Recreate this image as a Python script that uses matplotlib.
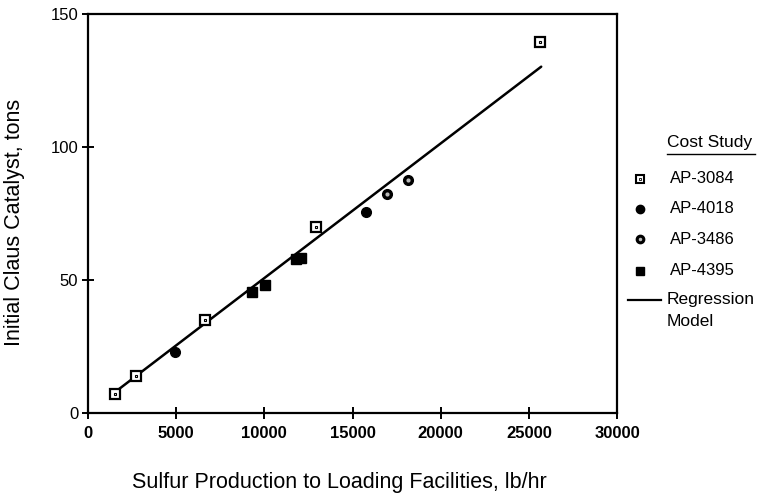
import matplotlib
matplotlib.use("Agg")
import matplotlib.pyplot as plt
from matplotlib.lines import Line2D

plt.rcParams["font.family"] = ["Liberation Sans", "DejaVu Sans"]

# values
ap3084_x = [1550, 2750, 6650, 12950, 25650]
ap3084_y = [7.3, 14.0, 35.0, 70.0, 139.5]
ap4018_x = [4950, 15750]
ap4018_y = [22.8, 75.5]
ap3486_x = [16950, 18150]
ap3486_y = [82.3, 87.6]
ap4395_x = [9300, 10050, 11800, 12100]
ap4395_y = [45.4, 48.2, 57.8, 58.4]
reg_x = [1500, 25700]
reg_y = [7.7, 130.2]

x_ticks = [0, 5000, 10000, 15000, 20000, 25000, 30000]
y_ticks = [0, 50, 100, 150]

fig = plt.figure(figsize=(7.63, 4.97), dpi=100)
ax = fig.add_axes([0.1153, 0.169, 0.6934, 0.8028])

ax.plot(reg_x, reg_y, color="black", lw=1.8, solid_capstyle="round", zorder=2)
ax.plot(ap3084_x, ap3084_y, ls="none", marker="s", ms=7, mfc="white", mec="black", mew=1.6, zorder=3)
ax.plot(ap3084_x, ap3084_y, ls="none", marker="s", ms=2, mfc="white", mec="black", mew=0.8, zorder=4)
ax.plot(ap4018_x, ap4018_y, ls="none", marker="o", ms=7, color="black", zorder=3)
ax.plot(ap3486_x, ap3486_y, ls="none", marker="o", ms=7, color="black", zorder=3)
ax.plot(ap3486_x, ap3486_y, ls="none", marker="o", ms=2, color="#bbbbbb", zorder=4)
ax.plot(ap4395_x, ap4395_y, ls="none", marker="s", ms=7, color="black", zorder=3)

ax.set_xlim(0, 30000)
ax.set_ylim(0, 150)
ax.set_xticks(x_ticks)
ax.set_yticks(y_ticks)
for s in ax.spines.values():
    s.set_linewidth(1.6)
ax.tick_params(direction="inout", length=8, width=1.4, pad=3)
ax.tick_params(axis="x", labelsize=12, pad=5)
ax.tick_params(axis="y", labelsize=12)
for lab in ax.get_xticklabels():
    lab.set_fontweight("bold")

ax.set_xlabel("Sulfur Production to Loading Facilities, lb/hr", fontsize=15.5, va="center")
ax.xaxis.set_label_coords(0.475, -0.173)
ax.set_ylabel("Initial Claus Catalyst, tons", fontsize=15.5, va="center")
ax.yaxis.set_label_coords(-0.138, 0.478)

# legend drawn by hand so the layout follows the scan
fig.text(0.874, 0.713, "Cost Study", fontsize=12.5, ha="left", va="center")
fig.add_artist(Line2D([0.874, 0.990], [0.690, 0.690], color="black", lw=1))
names = ["AP-3084", "AP-4018", "AP-3486", "AP-4395"]
rows_y = [0.640, 0.580, 0.519, 0.455]
for name, y in zip(names, rows_y):
    fig.text(0.878, y, name, fontsize=12, ha="left", va="center")
lx = 0.839
fig.add_artist(Line2D([lx], [rows_y[0]], ls="none", marker="s", ms=6, mfc="white", mec="black", mew=1.5))
fig.add_artist(Line2D([lx], [rows_y[0]], ls="none", marker="s", ms=1.5, mfc="white", mec="black", mew=0.6))
fig.add_artist(Line2D([lx], [rows_y[1]], ls="none", marker="o", ms=6, color="black"))
fig.add_artist(Line2D([lx], [rows_y[2]], ls="none", marker="o", ms=6, color="black"))
fig.add_artist(Line2D([lx], [rows_y[2]], ls="none", marker="o", ms=1.5, color="#bbbbbb"))
fig.add_artist(Line2D([lx], [rows_y[3]], ls="none", marker="s", ms=6, color="black"))
fig.add_artist(Line2D([0.823, 0.866], [0.397, 0.397], color="black", lw=1.6))
fig.text(0.874, 0.397, "Regression", fontsize=12.5, ha="left", va="center")
fig.text(0.874, 0.354, "Model", fontsize=12.5, ha="left", va="center")

fig.savefig("out.png", dpi=100)
